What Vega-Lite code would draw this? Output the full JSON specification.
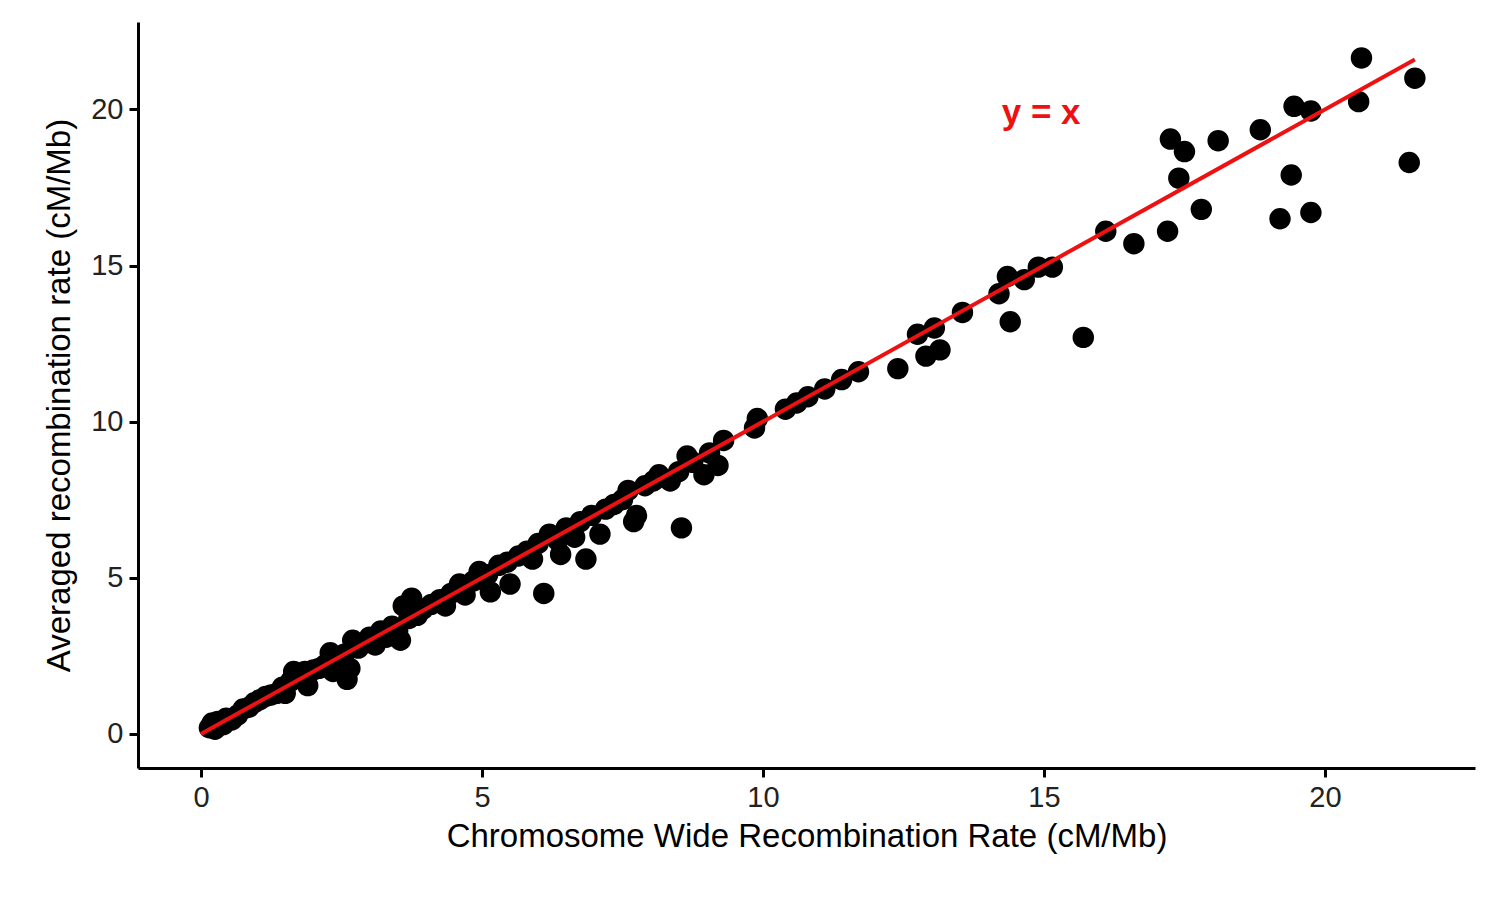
{
"$schema":"https://vega.github.io/schema/vega-lite/v6.json",
"width":1337,"height":746,"autosize":{"type":"none"},
"padding":{"left":138,"top":22,"right":25,"bottom":132},
"background":"white",
"config":{"view":{"stroke":null},"font":"Liberation Sans"},
"layer":[
{"data":{"values":[
{"x":0.15,"y":0.2},{"x":0.2,"y":0.35},{"x":0.25,"y":0.15},{"x":0.3,"y":0.4},{"x":0.4,"y":0.3},{"x":0.45,"y":0.5},{"x":0.55,"y":0.45},{"x":0.65,"y":0.6},{"x":0.75,"y":0.8},{"x":0.85,"y":0.85},{"x":0.95,"y":1.0},{"x":1.05,"y":1.1},{"x":1.15,"y":1.2},{"x":1.25,"y":1.25},{"x":1.35,"y":1.3},{"x":1.45,"y":1.5},{"x":1.5,"y":1.3},{"x":1.6,"y":1.7},{"x":1.65,"y":2.0},{"x":1.75,"y":1.8},{"x":1.85,"y":2.0},{"x":1.9,"y":1.55},{"x":2.0,"y":2.05},{"x":2.1,"y":2.1},{"x":2.2,"y":2.2},{"x":2.3,"y":2.6},{"x":2.35,"y":2.0},{"x":2.45,"y":2.4},{"x":2.55,"y":2.55},{"x":2.6,"y":1.75},{"x":2.65,"y":2.1},{"x":2.7,"y":3.0},{"x":2.8,"y":2.75},{"x":2.9,"y":2.9},{"x":3.0,"y":3.1},{"x":3.1,"y":2.85},{"x":3.2,"y":3.3},{"x":3.3,"y":3.1},{"x":3.4,"y":3.45},{"x":3.5,"y":3.3},{"x":3.55,"y":3.0},{"x":3.6,"y":4.1},{"x":3.7,"y":3.7},{"x":3.75,"y":4.35},{"x":3.85,"y":3.8},{"x":3.95,"y":4.0},{"x":4.1,"y":4.15},{"x":4.25,"y":4.3},{"x":4.35,"y":4.1},{"x":4.45,"y":4.5},{"x":4.6,"y":4.8},{"x":4.7,"y":4.45},{"x":4.85,"y":4.9},{"x":4.95,"y":5.2},{"x":5.1,"y":5.1},{"x":5.15,"y":4.55},{"x":5.3,"y":5.4},{"x":5.45,"y":5.5},{"x":5.5,"y":4.8},{"x":5.65,"y":5.7},{"x":5.8,"y":5.85},{"x":5.9,"y":5.6},{"x":6.0,"y":6.1},{"x":6.1,"y":4.5},{"x":6.2,"y":6.4},{"x":6.35,"y":6.2},{"x":6.4,"y":5.75},{"x":6.5,"y":6.6},{"x":6.65,"y":6.3},{"x":6.75,"y":6.8},{"x":6.85,"y":5.6},{"x":6.95,"y":7.0},{"x":7.1,"y":6.4},{"x":7.2,"y":7.2},{"x":7.35,"y":7.35},{"x":7.5,"y":7.5},{"x":7.6,"y":7.8},{"x":7.7,"y":6.8},{"x":7.75,"y":7.0},{"x":7.9,"y":7.95},{"x":8.05,"y":8.1},{"x":8.15,"y":8.3},{"x":8.35,"y":8.1},{"x":8.5,"y":8.4},{"x":8.55,"y":6.6},{"x":8.65,"y":8.9},{"x":8.75,"y":8.7},{"x":8.95,"y":8.3},{"x":9.05,"y":9.0},{"x":9.2,"y":8.6},{"x":9.3,"y":9.4},{"x":9.85,"y":9.8},{"x":9.9,"y":10.1},{"x":10.4,"y":10.4},{"x":10.6,"y":10.6},{"x":10.8,"y":10.8},{"x":11.1,"y":11.05},{"x":11.4,"y":11.35},{"x":11.7,"y":11.6},{"x":12.4,"y":11.7},{"x":12.75,"y":12.8},{"x":12.9,"y":12.1},{"x":13.05,"y":13.0},{"x":13.15,"y":12.3},{"x":13.55,"y":13.5},{"x":14.2,"y":14.1},{"x":14.35,"y":14.65},{"x":14.4,"y":13.2},{"x":14.65,"y":14.55},{"x":14.9,"y":14.95},{"x":15.15,"y":14.95},{"x":15.7,"y":12.7},{"x":16.1,"y":16.1},{"x":16.6,"y":15.7},{"x":17.2,"y":16.1},{"x":17.25,"y":19.05},{"x":17.4,"y":17.8},{"x":17.5,"y":18.65},{"x":17.8,"y":16.8},{"x":18.1,"y":19.0},{"x":18.85,"y":19.35},{"x":19.2,"y":16.5},{"x":19.4,"y":17.9},{"x":19.45,"y":20.1},{"x":19.75,"y":16.7},{"x":19.75,"y":19.95},{"x":20.6,"y":20.25},{"x":20.65,"y":21.65},{"x":21.5,"y":18.3},{"x":21.6,"y":21.0}
]},
"mark":{"type":"circle","size":460,"opacity":1,"color":"black"},
"encoding":{"x":{"field":"x","type":"quantitative","scale":{"domain":[-1.12,22.67],"nice":false,"zero":false},"axis":{"values":[0,5,10,15,20],"format":"d","grid":false,"domainColor":"black","domainWidth":3,"tickColor":"black","tickWidth":3,"tickSize":9,"labelFontSize":29,"labelColor":"#222","labelPadding":6,"title":"Chromosome Wide Recombination Rate (cM/Mb)","titleFontSize":33,"titleFontWeight":"normal","titleColor":"black","titlePadding":8}},
"y":{"field":"y","type":"quantitative","scale":{"domain":[-1.09,22.8],"nice":false,"zero":false},"axis":{"values":[0,5,10,15,20],"format":"d","grid":false,"domainColor":"black","domainWidth":3,"tickColor":"black","tickWidth":3,"tickSize":9,"labelFontSize":29,"labelColor":"#222","labelPadding":6,"title":"Averaged recombination rate (cM/Mb)","titleFontSize":33,"titleFontWeight":"normal","titleColor":"black","titlePadding":14}}}},
{"data":{"values":[{"x":0,"y":0},{"x":21.6,"y":21.6}]},
"mark":{"type":"line","color":"#ee1111","strokeWidth":4},
"encoding":{"x":{"field":"x","type":"quantitative"},"y":{"field":"y","type":"quantitative"}}},
{"data":{"values":[{"x":14.95,"y":19.9,"t":"y = x"}]},
"mark":{"type":"text","color":"#ee1111","fontSize":35,"fontWeight":"bold"},
"encoding":{"x":{"field":"x","type":"quantitative"},"y":{"field":"y","type":"quantitative"},"text":{"field":"t"}}}
]}
